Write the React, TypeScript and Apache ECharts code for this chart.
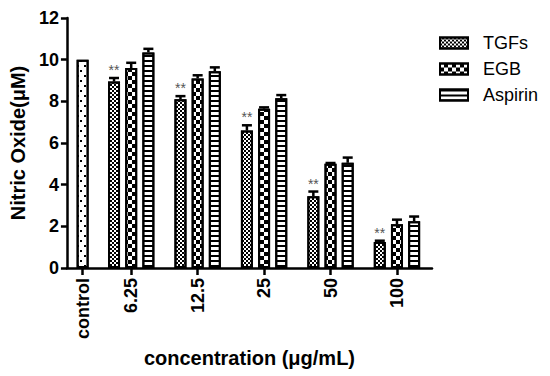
import React, { useEffect, useRef } from "react";
import * as echarts from "echarts";

const categories = ["control", "6.25", "12.5", "25", "50", "100"];
const groups = ["6.25", "12.5", "25", "50", "100"];
const controlValue = 10.0;
const tgfs = [8.95, 8.1, 6.6, 3.45, 1.25];
const tgfsErr = [0.17, 0.15, 0.25, 0.22, 0.06];
const egb = [9.6, 9.1, 7.65, 5.0, 2.1];
const egbErr = [0.25, 0.15, 0.06, 0.04, 0.22];
const aspirin = [10.35, 9.45, 8.15, 5.05, 2.25];
const aspirinErr = [0.17, 0.18, 0.15, 0.25, 0.22];
const yTicks = [0, 2, 4, 6, 8, 10, 12];

// layout (x axis in pixel-like units)
const X_MAX = 372;
const CONTROL_POS = 16;
const GROUP_START = 65.5;
const GROUP_STEP = 67.7;
const BAR_STEP = 17.5;

const FONT = "Liberation Sans, Arial, Helvetica, sans-serif";

const groupCenter = (i: number) => GROUP_START + GROUP_STEP * i;
const tickPositions = [CONTROL_POS, ...groups.map((_, i) => groupCenter(i))];

const decals = {
  control: {
    symbol: "rect",
    symbolSize: 1,
    dashArrayX: [[1.5, 4.5], [0, 3, 1.5, 1.5]],
    dashArrayY: [1.5, 3],
    color: "#000",
    rotation: 0,
  },
  tgfs: {
    symbol: "rect",
    symbolSize: 1,
    dashArrayX: [[2, 2], [0, 2, 2, 0]],
    dashArrayY: [2, 0],
    color: "#000",
    rotation: 0,
  },
  egb: {
    symbol: "rect",
    symbolSize: 1,
    dashArrayX: [[4, 4], [0, 4, 4, 0]],
    dashArrayY: [4, 0],
    color: "#000",
    rotation: 0,
  },
  aspirin: {
    symbol: "rect",
    symbolSize: 1,
    dashArrayX: [1, 0],
    dashArrayY: [2, 3],
    color: "#000",
    rotation: 0,
  },
};

function barSeries(name: string, data: number[][], decal: any) {
  return {
    name,
    type: "bar",
    data,
    barWidth: 12,
    barGap: "-100%",
    itemStyle: { color: "#fff", borderColor: "#000", borderWidth: 2, decal },
    emphasis: { disabled: true },
  };
}

function errSeries(name: string, data: number[][], stars: boolean) {
  return {
    name: name + "-err",
    type: "custom",
    data,
    z: 5,
    renderItem: (params: any, api: any) => {
      const x = api.value(0);
      const y = api.value(1);
      const e = api.value(2);
      const p0 = api.coord([x, y]);
      const p1 = api.coord([x, y + e]);
      const half = 5;
      const children: any[] = [
        {
          type: "line",
          shape: { x1: p0[0], y1: p0[1], x2: p1[0], y2: p1[1] },
          style: { stroke: "#000", lineWidth: 2.5 },
        },
        {
          type: "line",
          shape: { x1: p1[0] - half, y1: p1[1], x2: p1[0] + half, y2: p1[1] },
          style: { stroke: "#000", lineWidth: 2.5 },
        },
      ];
      if (stars) {
        children.push({
          type: "text",
          x: p1[0],
          y: p1[1] - 1,
          style: {
            text: "**",
            fill: "#555",
            font: `14px ${FONT}`,
            align: "center",
            verticalAlign: "bottom",
          },
        });
      }
      return { type: "group", children };
    },
  };
}

export default function App() {
  const ref = useRef<HTMLDivElement>(null);
  useEffect(() => {
    if (!ref.current) return;
    const chart = echarts.init(ref.current, undefined, { renderer: "svg" });

    const tgfsData = tgfs.map((v, i) => [groupCenter(i) - BAR_STEP, v]);
    const egbData = egb.map((v, i) => [groupCenter(i), v]);
    const aspData = aspirin.map((v, i) => [groupCenter(i) + BAR_STEP, v]);

    const labelFor = (v: number) => {
      let best = 0;
      let bd = Infinity;
      tickPositions.forEach((p, i) => {
        const d = Math.abs(p - v);
        if (d < bd) {
          bd = d;
          best = i;
        }
      });
      return categories[best];
    };

    chart.setOption({
      animation: false,
      grid: { left: 60, right: 118, top: 18, bottom: 108, containLabel: false },
      legend: {
        orient: "vertical",
        left: 434,
        top: 29,
        icon: "rect",
        itemWidth: 28,
        itemHeight: 11,
        itemGap: 8,
        selectedMode: false,
        data: ["TGFs", "EGB", "Aspirin"],
        textStyle: {
          fontFamily: FONT,
          fontSize: 18,
          color: "#000",
          padding: [0, 0, 0, 10],
        },
      },
      xAxis: {
        type: "value",
        min: 0,
        max: X_MAX,
        splitLine: { show: false },
        axisLine: { show: true, onZero: false, lineStyle: { color: "#000", width: 2.5 } },
        axisTick: {
          show: true,
          customValues: tickPositions,
          length: 7,
          lineStyle: { color: "#000", width: 2.5 },
        },
        axisLabel: {
          customValues: tickPositions,
          rotate: 90,
          margin: 10,
          formatter: (v: number) => labelFor(v),
          fontFamily: FONT,
          fontWeight: "bold",
          fontSize: 18,
          color: "#000",
        },
        name: "concentration (μg/mL)",
        nameLocation: "middle",
        nameGap: 80,
        nameTextStyle: {
          fontFamily: FONT,
          fontWeight: "bold",
          fontSize: 20,
          color: "#000",
          verticalAlign: "top",
        },
      },
      yAxis: {
        type: "value",
        min: 0,
        max: 12,
        interval: 2,
        splitLine: { show: false },
        axisLine: { show: true, lineStyle: { color: "#000", width: 2.5 } },
        axisTick: { show: true, length: 6, lineStyle: { color: "#000", width: 2.5 } },
        axisLabel: {
          fontFamily: FONT,
          fontWeight: "bold",
          fontSize: 18,
          color: "#000",
          margin: 8,
          formatter: (v: number) => (yTicks.includes(v) ? String(v) : ""),
        },
        name: "Nitric Oxide(μM)",
        nameLocation: "middle",
        nameGap: 38,
        nameTextStyle: {
          fontFamily: FONT,
          fontWeight: "bold",
          fontSize: 20,
          color: "#000",
        },
      },
      series: [
        barSeries("control", [[CONTROL_POS, controlValue]], decals.control),
        barSeries("TGFs", tgfsData, decals.tgfs),
        barSeries("EGB", egbData, decals.egb),
        barSeries("Aspirin", aspData, decals.aspirin),
        errSeries("TGFs", tgfsData.map((d, i) => [d[0], d[1], tgfsErr[i]]), true),
        errSeries("EGB", egbData.map((d, i) => [d[0], d[1], egbErr[i]]), false),
        errSeries("Aspirin", aspData.map((d, i) => [d[0], d[1], aspirinErr[i]]), false),
      ],
    });
    return () => chart.dispose();
  }, []);
  return (
    <div
      ref={ref}
      style={{ position: "absolute", left: 0, top: 0, width: 550, height: 376 }}
    />
  );
}
